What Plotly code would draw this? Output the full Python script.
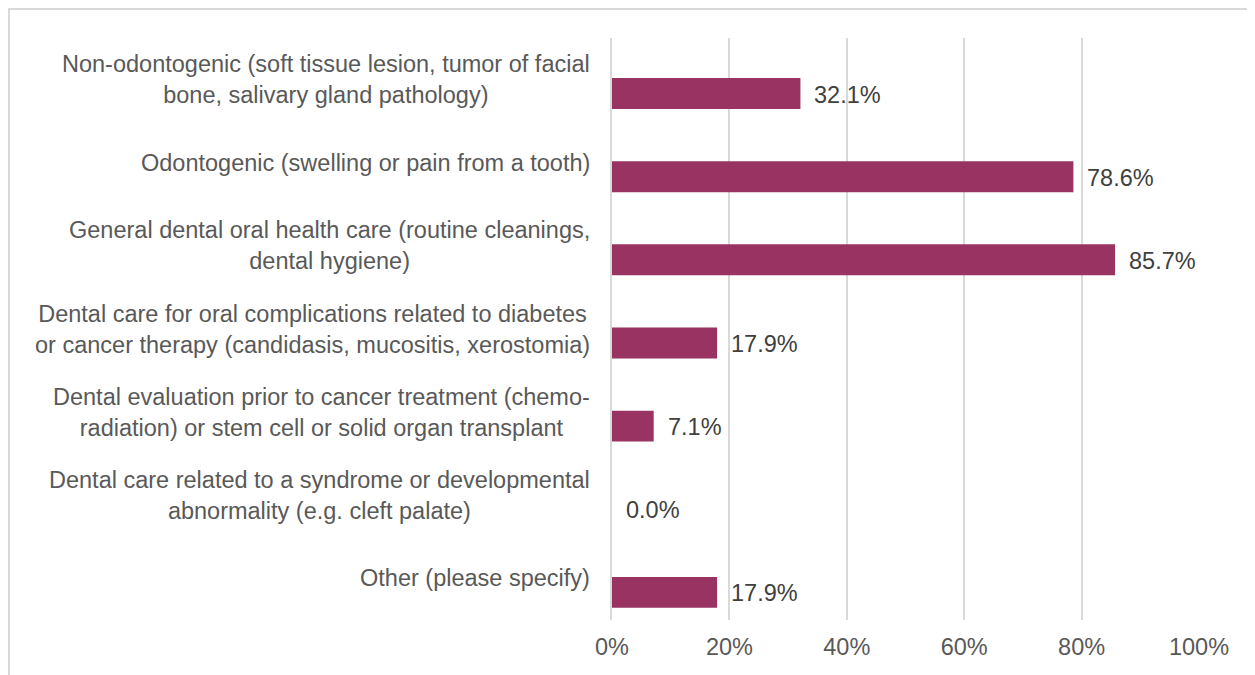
import plotly.graph_objects as go

categories = [
    "Non-odontogenic (soft tissue lesion, tumor of facial<br>bone, salivary gland pathology)",
    "Odontogenic (swelling or pain from a tooth)",
    "General dental oral health care (routine cleanings,<br>dental hygiene)",
    "Dental care for oral complications related to diabetes<br>or cancer therapy (candidasis, mucositis, xerostomia)",
    "Dental evaluation prior to cancer treatment (chemo-<br>radiation) or stem cell or solid organ transplant",
    "Dental care related to a syndrome or developmental<br>abnormality (e.g. cleft palate)",
    "Other (please specify)",
]
values = [32.1, 78.6, 85.7, 17.9, 7.1, 0.0, 17.9]
x_ticks = [0, 20, 40, 60, 80, 100]
x_tick_labels = ["0%", "20%", "40%", "60%", "80%", "100%"]

BAR_COLOR = "#993362"
FONT = "Liberation Sans, Arial, sans-serif"
FS = 23.5

L, T, PW, PH = 604, 30, 587, 582
W, H = 1255, 675

fig = go.Figure()
fig.add_trace(go.Bar(
    y=categories, x=values, orientation="h",
    marker=dict(color=BAR_COLOR, line=dict(width=0)),
    width=0.372, offset=-0.018,
    hoverinfo="x+y",
))

annotations = []
for cat, v in zip(categories, values):
    annotations.append(dict(
        x=v, y=cat, xref="x", yref="y", text=f"{v:.1f}%",
        showarrow=False, xanchor="left", yanchor="middle",
        xshift=12, yshift=-15,
        font=dict(family=FONT, size=FS, color="#404040"),
    ))
    annotations.append(dict(
        x=-0.034, y=cat, xref="paper", yref="y", text=cat,
        showarrow=False, xanchor="right", yanchor="middle", align="center",
        font=dict(family=FONT, size=FS, color="#595959"),
    ))

fig.update_layout(
    width=W, height=H,
    margin=dict(l=L, r=W - L - PW, t=T, b=H - T - PH),
    paper_bgcolor="white", plot_bgcolor="white",
    showlegend=False,
    font=dict(family=FONT, size=FS, color="#595959"),
    annotations=annotations,
    shapes=[dict(
        type="rect", xref="paper", yref="paper",
        x0=(1 - L) / PW, x1=1.5, y0=-0.5, y1=1 + (T - 1) / PH,
        line=dict(color="#D9D9D9", width=2), fillcolor="rgba(0,0,0,0)",
        layer="below",
    )],
    xaxis=dict(
        range=[0, 100], tickvals=x_ticks, ticktext=x_tick_labels,
        showgrid=True, gridcolor="#D9D9D9", gridwidth=1.5,
        zeroline=False, showline=False,
        ticks="", ticklabelstandoff=10,
        tickfont=dict(family=FONT, size=FS, color="#595959"),
        fixedrange=True,
    ),
    yaxis=dict(
        type="category", categoryorder="array", categoryarray=categories,
        autorange="reversed", showticklabels=False,
        showgrid=False, zeroline=False,
        showline=True, linecolor="#D9D9D9", linewidth=1.5,
        ticks="", fixedrange=True,
    ),
)

fig.write_html("out.html")
